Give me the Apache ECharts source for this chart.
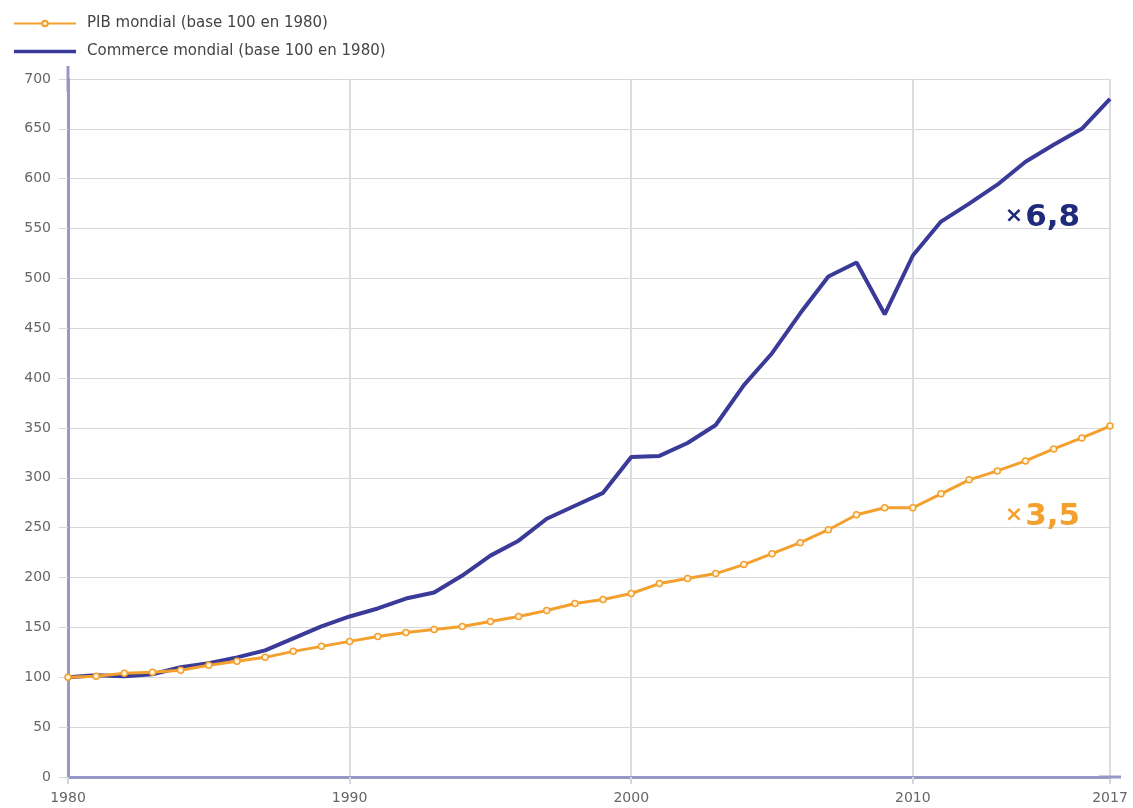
<!DOCTYPE html>
<html>
<head>
<meta charset="utf-8">
<script src="https://cdn.jsdelivr.net/npm/echarts@6/dist/echarts.min.js"></script>
<style>
  html, body { margin: 0; padding: 0; background: #fff; }
  #main { width: 1133px; height: 808px; }
</style>
</head>
<body>
<div id="main"></div>
<script>
const chart = echarts.init(document.getElementById('main'));

const years = [1980, 1981, 1982, 1983, 1984, 1985, 1986, 1987, 1988, 1989,
  1990, 1991, 1992, 1993, 1994, 1995, 1996, 1997, 1998, 1999,
  2000, 2001, 2002, 2003, 2004, 2005, 2006, 2007, 2008, 2009,
  2010, 2011, 2012, 2013, 2014, 2015, 2016, 2017];

const pib = [100, 101, 104, 105, 107, 112, 116, 120, 126, 131,
  136, 141, 145, 148, 151, 156, 161, 167, 174, 178,
  184, 194, 199, 204, 213, 224, 235, 248, 263, 270,
  270, 284, 298, 307, 317, 329, 340, 352];

const commerce = [100, 102, 101, 103, 110, 114, 120, 127, 139, 151,
  161, 169, 179, 185, 202, 222, 237, 259, 272, 285,
  321, 322, 335, 353, 393, 425, 465, 502, 516, 464,
  523, 557, 575, 594, 617, 634, 650, 680];

const names = ['PIB mondial (base 100 en 1980)', 'Commerce mondial (base 100 en 1980)'];
const colors = ['#f4a02e', '#3a3a98'];

const labels = [
  { text: '6,8', coord: [2014.6, 561], color: '#1f2a7a' },
  { text: '3,5', coord: [2014.6, 261], color: '#f4a02e' }
];

function pairs(values) {
  return years.map((y, i) => [y, values[i]]);
}

function tag(l) {
  return {
    coord: l.coord,
    symbol: 'circle',
    symbolSize: 1,
    itemStyle: { color: 'rgba(0,0,0,0)' },
    label: {
      show: true,
      position: 'inside',
      formatter: '{x|×}{n|' + l.text + '}',
      rich: {
        x: { color: l.color, fontSize: 22, fontWeight: 'bold', fontFamily: 'DejaVu Sans', padding: [0, 2, 2, 0] },
        n: { color: l.color, fontSize: 31, fontWeight: 'bold', fontFamily: 'DejaVu Sans' }
      }
    }
  };
}

chart.setOption({
  animation: false,
  textStyle: { fontFamily: 'DejaVu Sans' },
  legend: {
    orient: 'vertical',
    left: 8,
    top: 11,
    itemGap: 13,
    itemWidth: 62,
    itemHeight: 7,
    textStyle: { fontSize: 15, color: '#444', padding: [0, 0, 0, 6] },
    data: [
      { name: names[0] },
      { name: names[1], icon: 'path://M0,0h60v3.5h-60z' }
    ]
  },
  grid: { left: 68, right: 23, top: 79, bottom: 31 },
  xAxis: {
    type: 'value',
    min: 1980,
    max: 2017,
    interval: 10,
    axisLine: {
      lineStyle: { color: '#9898c6', width: 3 },
      symbol: ['none', 'rect'],
      symbolSize: [3, 22]
    },
    axisTick: { show: true, length: 7, lineStyle: { color: '#d6d6e0', width: 2 } },
    axisLabel: {
      margin: 14,
      fontSize: 14,
      color: '#666',
      showMaxLabel: true,
      showMinLabel: true,
      formatter: v => String(v)
    },
    splitLine: { show: true, lineStyle: { color: '#dcdce4', width: 2 } }
  },
  yAxis: {
    type: 'value',
    min: 0,
    max: 700,
    interval: 50,
    axisLine: {
      show: true,
      lineStyle: { color: '#9898c6', width: 3 },
      symbol: ['none', 'rect'],
      symbolSize: [3, 26]
    },
    axisTick: { show: true, length: 9, lineStyle: { color: '#d8d8d8' } },
    axisLabel: { margin: 17, fontSize: 14, color: '#666' },
    splitLine: { lineStyle: { color: '#d8d8d8' } }
  },
  series: [
    {
      name: names[0],
      type: 'line',
      data: pairs(pib),
      color: colors[0],
      symbol: 'circle',
      symbolSize: 6,
      itemStyle: { color: '#fff4e0', borderColor: colors[0], borderWidth: 1.5 },
      lineStyle: { width: 3, color: colors[0] },
      z: 3,
      markPoint: { data: [tag(labels[1])] }
    },
    {
      name: names[1],
      type: 'line',
      data: pairs(commerce),
      color: colors[1],
      symbol: 'none',
      lineStyle: { width: 4, color: colors[1] },
      z: 2,
      markPoint: { data: [tag(labels[0])] }
    }
  ]
});
</script>
</body>
</html>
